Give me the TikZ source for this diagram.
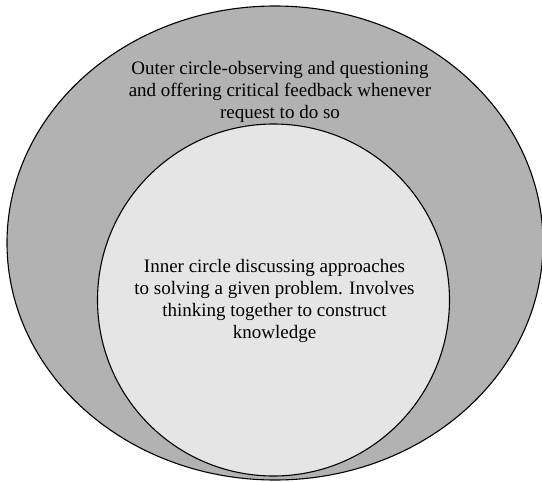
\documentclass[tikz,border=0pt]{standalone}
\usepackage{fontspec}
\setmainfont{Liberation Serif}
\usetikzlibrary{shapes.geometric}
\definecolor{outergray}{RGB}{178,178,178}
\definecolor{innergray}{RGB}{229,229,229}
\tikzset{
  ring/.style={draw=black, line width=1.1pt, inner sep=0pt, outer sep=0pt},
  label text/.style={align=center, font=\fontsize{19}{22}\selectfont, inner sep=0pt}
}
\begin{document}
\begin{tikzpicture}[x=1pt,y=-1pt]
  \useasboundingbox (0,0) rectangle (542,482);
  \begin{scope}
    \clip (0,0) rectangle (542,482);
    \node[ring, ellipse, fill=outergray, minimum width=536pt, minimum height=474pt] (outer) at (275,243) {};
    \node[ring, circle, fill=innergray, minimum size=352pt] (inner) at (273.5,300) {};
  \end{scope}
  \node[label text] (outertext) at (280,92) {Outer circle-observing and questioning\\and offering critical feedback whenever\\request to do so};
  \node[label text] (innertext) at (274.5,301) {Inner circle discussing approaches\\to solving a given problem. Involves\\thinking together to construct\\knowledge};
\end{tikzpicture}
\end{document}
